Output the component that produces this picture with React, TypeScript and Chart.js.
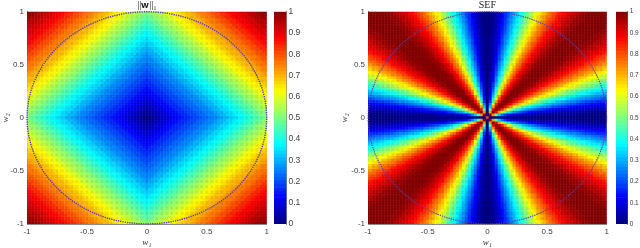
import React, { useEffect, useRef } from "react";
import { Chart, registerables } from "chart.js";

Chart.register(...registerables);

// Values are read in percent of the colour bar. The pictures are mirror-symmetric about
// both axes, so only the first quadrant is listed and the other three repeat it.
const gridSteps = [
  0, 0.025, 0.05, 0.075, 0.1, 0.125, 0.15, 0.175, 0.2, 0.225, 0.25, 0.275, 0.3, 0.325, 0.35, 0.375, 0.4, 0.425, 0.45, 0.475, 0.5,
  0.525, 0.55, 0.575, 0.6, 0.625, 0.65, 0.675, 0.7, 0.725, 0.75, 0.775, 0.8, 0.825, 0.85, 0.875, 0.9, 0.925, 0.95, 0.975, 1,
];

// Left panel: the level on each diamond-shaped ring, going out from the centre.
const l1Rings = [
  0, 1, 3, 4, 5, 6, 8, 9, 10, 11, 13,
  14, 15, 16, 17, 18, 19, 20, 21, 22, 23, 24, 25,
  26, 28, 29, 30, 31, 33, 34, 35, 36, 38,
  39, 41, 42, 44, 45, 47, 48, 50,
  52, 53, 55, 56, 58, 59, 61, 63,
  64, 65, 66, 68, 69, 70, 71, 73, 74, 75,
  76, 78, 79, 80, 81, 83, 84, 85, 86, 88,
  89, 90, 91, 92, 93, 94, 95, 96, 97, 98, 99, 100,
];

// Right panel: one row per larger grid step (the panel is also symmetric about the diagonal).
const sefOctant = [
  [80],
  [0, 100],
  [0, 72, 100],
  [0, 46, 89, 100],
  [0, 32, 72, 94, 100],
  [0, 24, 58, 83, 97, 100],
  [0, 18, 46, 72, 89, 98, 100],
  [0, 14, 39, 62, 80, 92, 98, 100],
  [0, 11, 32, 54, 72, 86, 94, 99, 100],
  [0, 9, 28, 46, 64, 79, 89, 95, 99, 100],
  [0, 8, 24, 41, 58, 72, 83, 91, 97, 99, 100],
  [0, 7, 20, 37, 52, 66, 77, 87, 93, 97, 99, 100],
  [0, 6, 18, 32, 46, 61, 72, 82, 89, 94, 98, 100, 100],
  [0, 5, 16, 29, 42, 56, 67, 76, 85, 91, 95, 98, 100, 100],
  [0, 5, 14, 26, 39, 51, 62, 72, 80, 87, 92, 96, 98, 100, 100],
  [0, 4, 12, 24, 35, 46, 58, 68, 76, 83, 89, 93, 97, 98, 100, 100],
  [0, 4, 11, 21, 32, 43, 54, 64, 72, 79, 86, 90, 94, 97, 99, 100, 100],
  [0, 4, 10, 19, 30, 40, 50, 60, 68, 76, 82, 88, 91, 95, 97, 99, 100, 100],
  [0, 3, 9, 18, 28, 37, 46, 56, 64, 72, 79, 84, 89, 93, 95, 98, 99, 100, 100],
  [0, 3, 9, 16, 26, 34, 43, 53, 61, 69, 75, 81, 87, 90, 94, 96, 98, 99, 100, 100],
  [0, 3, 8, 15, 24, 32, 41, 50, 58, 65, 72, 78, 83, 88, 91, 94, 97, 98, 99, 100, 100],
  [0, 3, 7, 14, 22, 30, 39, 46, 55, 62, 69, 75, 80, 85, 89, 92, 95, 97, 98, 99, 100, 100],
  [0, 3, 7, 13, 20, 28, 37, 44, 52, 60, 66, 72, 77, 82, 87, 90, 93, 95, 97, 98, 99, 100, 100],
  [0, 2, 6, 12, 19, 27, 34, 42, 50, 57, 63, 69, 75, 80, 84, 88, 91, 93, 96, 97, 98, 99, 100, 100],
  [0, 2, 6, 11, 18, 25, 32, 40, 46, 54, 61, 66, 72, 77, 82, 86, 89, 92, 94, 96, 98, 99, 100, 100, 100],
  [0, 2, 6, 10, 17, 24, 30, 38, 44, 52, 58, 64, 70, 74, 79, 83, 87, 90, 93, 94, 97, 98, 99, 100, 100, 100],
  [0, 2, 5, 10, 16, 22, 29, 36, 42, 49, 56, 62, 67, 72, 76, 81, 85, 88, 91, 93, 95, 97, 98, 99, 100, 100, 100],
  [0, 2, 5, 9, 15, 21, 28, 34, 40, 46, 53, 59, 64, 70, 74, 79, 82, 86, 89, 91, 94, 95, 97, 98, 99, 100, 100, 100],
  [0, 2, 5, 9, 14, 20, 26, 32, 39, 44, 51, 57, 62, 67, 72, 77, 80, 84, 87, 90, 92, 94, 96, 97, 98, 99, 100, 100, 100],
  [0, 2, 4, 8, 13, 19, 25, 31, 37, 43, 49, 55, 60, 65, 70, 74, 78, 82, 85, 88, 91, 93, 94, 96, 97, 98, 99, 100, 100, 100],
  [0, 2, 4, 8, 12, 18, 24, 29, 35, 41, 46, 53, 58, 63, 68, 72, 76, 80, 83, 87, 89, 91, 93, 95, 97, 98, 98, 99, 100, 100, 100],
  [0, 1, 4, 7, 12, 17, 23, 28, 33, 39, 45, 51, 56, 61, 65, 70, 74, 78, 81, 85, 88, 90, 92, 94, 95, 97, 97, 98, 99, 100, 100, 100],
  [0, 1, 4, 7, 11, 16, 21, 27, 32, 38, 43, 49, 54, 59, 64, 68, 72, 76, 79, 83, 86, 88, 90, 93, 94, 95, 97, 98, 99, 99, 100, 100, 100],
  [0, 1, 4, 7, 10, 15, 20, 26, 31, 36, 41, 46, 52, 57, 62, 66, 70, 74, 77, 81, 84, 87, 89, 91, 93, 94, 96, 97, 98, 99, 99, 100, 100, 100],
  [0, 1, 4, 6, 10, 15, 19, 25, 30, 35, 40, 45, 50, 55, 60, 64, 68, 72, 76, 79, 82, 85, 88, 90, 91, 93, 95, 96, 97, 98, 99, 99, 100, 100, 100],
  [0, 1, 3, 6, 10, 14, 18, 24, 29, 33, 39, 43, 49, 53, 58, 62, 66, 71, 74, 77, 80, 83, 86, 88, 90, 92, 94, 95, 97, 97, 98, 99, 100, 100, 100, 100],
  [0, 1, 3, 6, 9, 13, 18, 23, 28, 32, 37, 42, 46, 52, 56, 61, 64, 69, 72, 75, 79, 82, 84, 87, 89, 91, 93, 94, 95, 97, 98, 98, 99, 100, 100, 100, 100],
  [0, 1, 3, 6, 9, 13, 17, 22, 27, 31, 36, 41, 45, 50, 55, 59, 63, 66, 70, 73, 77, 80, 82, 85, 88, 90, 91, 93, 94, 96, 97, 98, 98, 99, 100, 100, 100, 100],
  [0, 1, 3, 5, 9, 12, 16, 21, 26, 30, 35, 39, 43, 49, 53, 57, 61, 65, 69, 72, 75, 78, 81, 84, 87, 88, 90, 92, 94, 95, 96, 97, 98, 99, 99, 100, 100, 100, 100],
  [0, 1, 3, 5, 8, 11, 16, 20, 25, 29, 33, 38, 42, 46, 51, 56, 60, 63, 67, 70, 73, 77, 80, 82, 85, 87, 89, 91, 92, 93, 95, 96, 97, 98, 99, 99, 100, 100, 100, 100],
  [0, 1, 3, 5, 8, 11, 15, 19, 24, 28, 32, 37, 41, 45, 50, 54, 58, 62, 65, 69, 72, 75, 78, 81, 83, 86, 88, 90, 91, 93, 94, 95, 97, 97, 98, 99, 99, 100, 100, 100, 100],
];

// Unit circle, first quadrant, mirrored into the other three.
const circleX = [1, 0.9962, 0.9848, 0.9659, 0.9397, 0.9063, 0.866, 0.8192, 0.766, 0.7071, 0.6428, 0.5736, 0.5, 0.4226, 0.342, 0.2588, 0.1736, 0.0872, 0];
const circleY = [0, 0.0872, 0.1736, 0.2588, 0.342, 0.4226, 0.5, 0.5736, 0.6428, 0.7071, 0.766, 0.8192, 0.866, 0.9063, 0.9397, 0.9659, 0.9848, 0.9962, 1];

// Positions of the small dark flecks that speckle both heat maps.
const fleckX = [0, 0.042, 0.083, 0.125, 0.167, 0.208, 0.25, 0.292, 0.333, 0.375, 0.417, 0.458, 0.5, 0.542, 0.583, 0.625, 0.667, 0.708, 0.75, 0.792, 0.833, 0.875, 0.917, 0.958, 1];
const fleckY = [0, 0.05, 0.1, 0.15, 0.2, 0.25, 0.3, 0.35, 0.4, 0.45, 0.5, 0.55, 0.6, 0.65, 0.7, 0.75, 0.8, 0.85, 0.9, 0.95, 1];

const colorbarTicks = [0, 0.1, 0.2, 0.3, 0.4, 0.5, 0.6, 0.7, 0.8, 0.9, 1];
const colorbarLevelCount = 64;
const axisTicks = [-1, -0.5, 0, 0.5, 1];

const TICK_COLOR = "#404040";
const SANS = '"Liberation Sans", Arial, sans-serif';
const SERIF = '"Liberation Serif", "DejaVu Serif", serif';

function jet(v: number): string {
  const level = Math.min(63, Math.max(0, Math.floor(v * 64)));
  const t = (level + 0.5) / 64;
  const c = (x: number) => Math.round(255 * Math.min(1, Math.max(0, 1.5 - Math.abs(4 * t - x))));
  return `rgb(${c(3)},${c(2)},${c(1)})`;
}

const l1Value = (a: number, b: number) => l1Rings[a + b];
const sefValue = (a: number, b: number) => sefOctant[Math.max(a, b)][Math.min(a, b)];

function heatCells(value: (a: number, b: number) => number) {
  const pts: { x: number; y: number }[] = [];
  const colors: string[] = [];
  const n = gridSteps.length - 1;
  for (let j = n; j >= -n; j--) {
    for (let i = -n; i <= n; i++) {
      const a = Math.abs(i);
      const b = Math.abs(j);
      pts.push({ x: Math.sign(i) * gridSteps[a], y: Math.sign(j) * gridSteps[b] });
      colors.push(jet(value(a, b) / 100));
    }
  }
  return { pts, colors };
}

function fleckPoints() {
  const out: { x: number; y: number }[] = [];
  for (const y of fleckY) {
    for (const x of fleckX) {
      out.push({ x, y });
      if (x) out.push({ x: -x, y });
      if (y) out.push({ x, y: -y });
      if (x && y) out.push({ x: -x, y: -y });
    }
  }
  return out;
}

function circlePoints() {
  const out: { x: number; y: number }[] = [];
  const m = circleX.length;
  for (let k = 0; k < m; k++) out.push({ x: circleX[k], y: circleY[k] });
  for (let k = m - 2; k >= 0; k--) out.push({ x: -circleX[k], y: circleY[k] });
  for (let k = 1; k < m; k++) out.push({ x: -circleX[k], y: -circleY[k] });
  for (let k = m - 2; k >= 0; k--) out.push({ x: circleX[k], y: -circleY[k] });
  return out;
}

function Panel(props: { value: (a: number, b: number) => number; title: string; left: number; width: number; axisWidth: number; rightPad: number; circleWidth: number }) {
  const ref = useRef<HTMLCanvasElement>(null);
  useEffect(() => {
    const { pts, colors } = heatCells(props.value);
    const chart = new Chart(ref.current!, {
      type: "scatter",
      data: {
        datasets: [
          {
            data: circlePoints(),
            showLine: true,
            pointRadius: 0,
            borderColor: "#5a3ea6",
            borderWidth: props.circleWidth,
            borderDash: [1.3, 1],
            order: 1,
            clip: 2,
          } as any,
          {
            data: fleckPoints(),
            pointStyle: "rect",
            pointRadius: 2.2,
            pointBorderWidth: 0,
            pointBackgroundColor: "rgba(0,0,0,0.07)",
            order: 2,
            clip: 0,
          } as any,
          {
            data: pts,
            pointStyle: "rect",
            pointRadius: 2.4,
            pointBorderWidth: 0,
            pointBackgroundColor: colors,
            order: 3,
            clip: 0,
          } as any,
        ],
      },
      options: {
        responsive: false,
        animation: false,
        events: [],
        layout: { padding: { right: props.rightPad, top: 0, left: 0, bottom: 0 } },
        plugins: {
          legend: { display: false },
          tooltip: { enabled: false },
          title: {
            display: true,
            fullSize: false,
            text: props.title,
            color: "#222",
            padding: 0,
            font: { family: SERIF, size: 10, weight: "normal", lineHeight: 1.17 },
          },
        },
        scales: {
          x: {
            type: "linear",
            min: -1,
            max: 1,
            afterFit: (s: any) => { s.height = 24; },
            afterBuildTicks: (s: any) => { s.ticks = axisTicks.map((value) => ({ value })); },
            grid: { display: false, drawTicks: false },
            border: { display: true, color: "#8c8c8c", width: 1 },
            ticks: { color: TICK_COLOR, padding: 3, maxRotation: 0, font: { family: SANS, size: 8 }, callback: (v: any) => String(v) },
            title: { display: true, text: "w\u2081", color: "#333", padding: 0, font: { family: SERIF, size: 9, style: "italic" } },
          },
          y: {
            type: "linear",
            min: -1,
            max: 1,
            afterFit: (s: any) => { s.width = props.axisWidth; },
            afterBuildTicks: (s: any) => { s.ticks = axisTicks.map((value) => ({ value })); },
            grid: { display: false, drawTicks: false },
            border: { display: true, color: "#8c8c8c", width: 1 },
            ticks: { color: TICK_COLOR, padding: 3, font: { family: SANS, size: 8 }, callback: (v: any) => String(v) },
            title: { display: true, text: "w\u2082", color: "#333", padding: 0, font: { family: SERIF, size: 9, style: "italic" } },
          },
        },
      } as any,
    });
    return () => chart.destroy();
  }, []);
  return <canvas ref={ref} width={props.width} height={248} style={{ position: "absolute", left: props.left, top: 0, filter: "blur(0.45px)" }} />;
}

function Colorbar(props: { left: number; width: number; axisWidth: number; fontSize: number }) {
  const ref = useRef<HTMLCanvasElement>(null);
  useEffect(() => {
    const datasets = [];
    for (let k = 0; k < colorbarLevelCount; k++) {
      datasets.push({
        data: [1 / colorbarLevelCount],
        backgroundColor: jet((k + 0.5) / colorbarLevelCount),
        borderWidth: 0,
        barPercentage: 1,
        categoryPercentage: 1,
      });
    }
    const chart = new Chart(ref.current!, {
      type: "bar",
      data: { labels: ["colorbar"], datasets },
      options: {
        responsive: false,
        animation: false,
        events: [],
        layout: { padding: { top: 11.7, bottom: 24, left: 0, right: 0 } },
        plugins: { legend: { display: false }, tooltip: { enabled: false }, title: { display: false } },
        scales: {
          x: { display: false, stacked: true },
          y: {
            type: "linear",
            stacked: true,
            position: "right",
            min: 0,
            max: 1,
            afterFit: (s: any) => { s.width = props.axisWidth; },
            afterBuildTicks: (s: any) => { s.ticks = colorbarTicks.map((value) => ({ value })); },
            grid: { display: false, drawTicks: false },
            border: { display: true, color: "#8c8c8c", width: 1 },
            ticks: { color: TICK_COLOR, padding: 2, font: { family: SANS, size: props.fontSize }, callback: (v: any) => String(v) },
          },
        },
      } as any,
    });
    return () => chart.destroy();
  }, []);
  return <canvas ref={ref} width={props.width} height={248} style={{ position: "absolute", left: props.left, top: 0, filter: "blur(0.3px)" }} />;
}

export default function App() {
  return (
    <div style={{ position: "absolute", left: 0, top: 0, width: 640, height: 248, overflow: "hidden", background: "#fff" }}>
      <Panel value={l1Value} title={"||\u{1D430}||\u2081"} left={0} width={272} axisWidth={27} rightPad={4.7} circleWidth={1.4} />
      <Colorbar left={274.3} width={46} axisWidth={33.6} fontSize={8.5} />
      <Panel value={sefValue} title="SEF" left={338.7} width={273.3} axisWidth={29} rightPad={4.3} circleWidth={1.1} />
      <Colorbar left={615.6} width={24.4} axisWidth={12.3} fontSize={6.5} />
    </div>
  );
}
